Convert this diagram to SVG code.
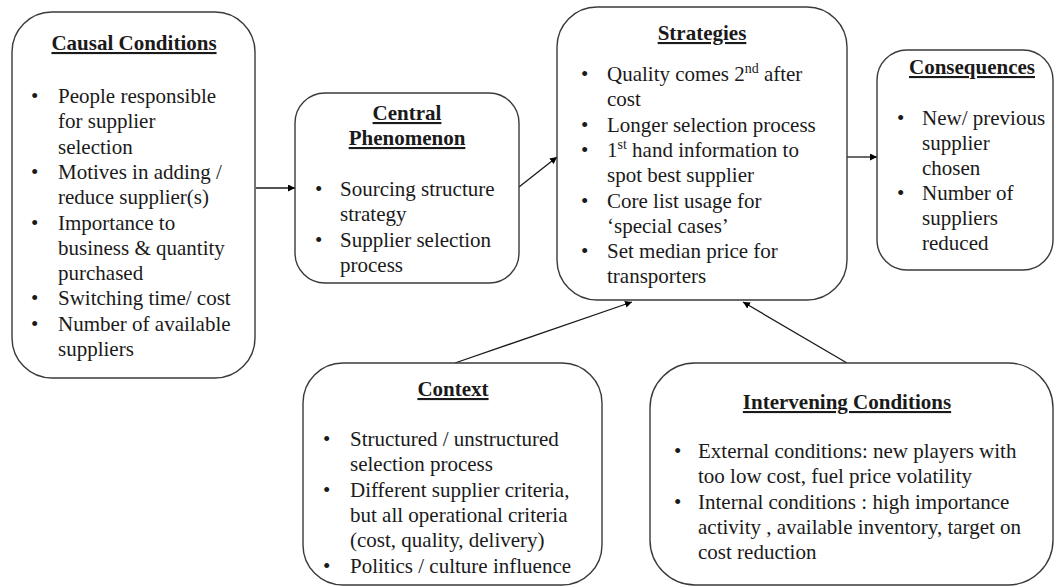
<svg xmlns="http://www.w3.org/2000/svg" width="1056" height="587" viewBox="0 0 1056 587">
<defs>
<marker id="ah" viewBox="0 0 10 10" refX="10" refY="5" markerWidth="7" markerHeight="7" markerUnits="userSpaceOnUse" orient="auto">
<path d="M0,0 L10,5 L0,10 z" fill="#000"/>
</marker>
<style>
.box{fill:#fff;stroke:#3a3a3a;stroke-width:1.4}
.t{font-family:"Liberation Serif","Times New Roman",serif;font-size:21px;fill:#1a1a1a}
.h{font-family:"Liberation Serif","Times New Roman",serif;font-size:21px;font-weight:bold;fill:#1a1a1a;text-decoration:underline;text-anchor:middle}
.c{stroke:#1a1a1a;stroke-width:1.3;fill:none;marker-end:url(#ah)}
</style>
</defs>
<rect width="1056" height="587" fill="#fff"/>
<g id="connectors">
<line class="c" x1="256" y1="188" x2="295" y2="188"/>
<line class="c" x1="519" y1="187" x2="557" y2="157"/>
<line class="c" x1="847" y1="157" x2="877" y2="157"/>
<line class="c" x1="455" y1="363" x2="632" y2="302"/>
<line class="c" x1="847" y1="363" x2="743" y2="302"/>
</g>
<g id="causal">
<rect class="box" x="12" y="12" width="243" height="366" rx="40"/>
<text class="h" x="134" y="50">Causal Conditions</text>
<g class="t">
<text x="31" y="103">•</text><text x="58" y="103">People responsible</text>
<text x="58" y="128.3">for supplier</text>
<text x="58" y="153.6">selection</text>
<text x="31" y="178.9">•</text><text x="58" y="178.9">Motives in adding /</text>
<text x="58" y="204.2">reduce supplier(s)</text>
<text x="31" y="229.5">•</text><text x="58" y="229.5">Importance to</text>
<text x="58" y="254.8">business &amp; quantity</text>
<text x="58" y="280.1">purchased</text>
<text x="31" y="305.4">•</text><text x="58" y="305.4">Switching time/ cost</text>
<text x="31" y="330.7">•</text><text x="58" y="330.7">Number of available</text>
<text x="58" y="356">suppliers</text>
</g>
</g>
<g id="central">
<rect class="box" x="295" y="93" width="224" height="190" rx="30"/>
<text class="h" x="407" y="120">Central</text>
<text class="h" x="407" y="145">Phenomenon</text>
<g class="t">
<text x="315" y="196">•</text><text x="340" y="196">Sourcing structure</text>
<text x="340" y="221.3">strategy</text>
<text x="315" y="246.6">•</text><text x="340" y="246.6">Supplier selection</text>
<text x="340" y="272">process</text>
</g>
</g>
<g id="strategies">
<rect class="box" x="557" y="7" width="290" height="293" rx="40"/>
<text class="h" x="702" y="40">Strategies</text>
<g class="t">
<text x="581" y="81">•</text><text x="607" y="81">Quality comes 2<tspan font-size="14" dy="-8">nd</tspan><tspan dy="8"> after</tspan></text>
<text x="607" y="106.3">cost</text>
<text x="581" y="131.6">•</text><text x="607" y="131.6">Longer selection process</text>
<text x="581" y="156.9">•</text><text x="607" y="156.9">1<tspan font-size="14" dy="-8">st</tspan><tspan dy="8"> hand information to</tspan></text>
<text x="607" y="182.2">spot best supplier</text>
<text x="581" y="207.5">•</text><text x="607" y="207.5">Core list usage for</text>
<text x="607" y="232.8">‘special cases’</text>
<text x="581" y="258.1">•</text><text x="607" y="258.1">Set median price for</text>
<text x="607" y="283.4">transporters</text>
</g>
</g>
<g id="consequences">
<rect class="box" x="877" y="50" width="176" height="220" rx="30"/>
<text class="h" x="972" y="74">Consequences</text>
<g class="t">
<text x="897" y="125">•</text><text x="922" y="125">New/ previous</text>
<text x="922" y="150">supplier</text>
<text x="922" y="175">chosen</text>
<text x="897" y="200">•</text><text x="922" y="200">Number of</text>
<text x="922" y="225">suppliers</text>
<text x="922" y="250">reduced</text>
</g>
</g>
<g id="context">
<rect class="box" x="303" y="363" width="299" height="222" rx="40"/>
<text class="h" x="453" y="396">Context</text>
<g class="t">
<text x="323" y="446">•</text><text x="350" y="446">Structured / unstructured</text>
<text x="350" y="471.3">selection process</text>
<text x="323" y="496.6">•</text><text x="350" y="496.6">Different supplier criteria,</text>
<text x="350" y="521.9">but all operational criteria</text>
<text x="350" y="547.2">(cost, quality, delivery)</text>
<text x="323" y="572.5">•</text><text x="350" y="572.5">Politics / culture influence</text>
</g>
</g>
<g id="intervening">
<rect class="box" x="650" y="363" width="403" height="222" rx="45"/>
<text class="h" x="847" y="409">Intervening Conditions</text>
<g class="t">
<text x="674" y="458">•</text><text x="698" y="458">External conditions: new players with</text>
<text x="698" y="483.3">too low cost, fuel price volatility</text>
<text x="674" y="508.6">•</text><text x="698" y="508.6">Internal conditions : high importance</text>
<text x="698" y="533.9">activity , available inventory, target on</text>
<text x="698" y="559.2">cost reduction</text>
</g>
</g>
</svg>
